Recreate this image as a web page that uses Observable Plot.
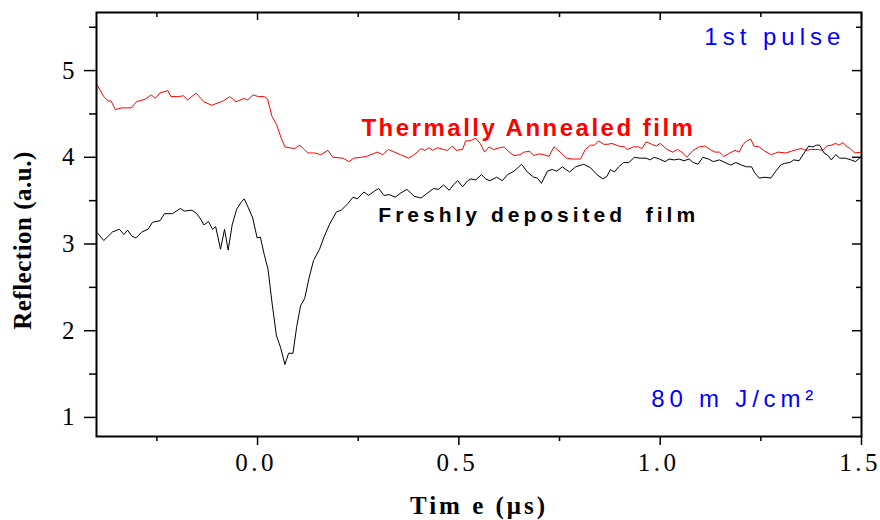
<!DOCTYPE html>
<html><head><meta charset="utf-8">
<script src="https://cdn.jsdelivr.net/npm/d3@7"></script>
<script src="https://cdn.jsdelivr.net/npm/@observablehq/plot@0.6"></script>
<style>body{margin:0;background:#fff}</style>
</head><body><div id="chart"></div>
<script>
// Thermally annealed film (red)
const annealedTime = [-0.398,-0.382,-0.371,-0.364,-0.353,-0.337,-0.314,-0.301,-0.279,-0.264,
-0.254,-0.243,-0.223,-0.215,-0.196,-0.184,-0.174,-0.153,-0.133,-0.114,
-0.085,-0.069,-0.054,-0.033,-0.025,-0.011,0.002,0.017,0.025,0.036,
0.047,0.058,0.068,0.080,0.092,0.105,0.116,0.125,0.142,0.157,
0.175,0.187,0.212,0.227,0.239,0.257,0.270,0.282,0.297,0.311,
0.325,0.340,0.355,0.375,0.389,0.406,0.416,0.426,0.435,0.447,
0.462,0.472,0.484,0.493,0.509,0.517,0.528,0.542,0.553,0.564,
0.575,0.586,0.602,0.612,0.625,0.637,0.652,0.662,0.676,0.686,
0.699,0.711,0.724,0.736,0.752,0.767,0.781,0.802,0.814,0.827,
0.837,0.847,0.860,0.870,0.880,0.897,0.911,0.918,0.934,0.946,
0.955,0.965,0.979,0.990,1.000,1.017,1.031,1.043,1.054,1.066,
1.082,1.097,1.111,1.124,1.136,1.147,1.158,1.173,1.186,1.196,
1.206,1.216,1.225,1.233,1.246,1.260,1.276,1.293,1.312,1.326,
1.340,1.351,1.363,1.375,1.392,1.403,1.414,1.425,1.436,1.444,
1.454,1.462,1.472,1.483,1.500];
const annealedReflection = [4.83,4.70,4.65,4.65,4.55,4.57,4.57,4.64,4.67,4.72,
4.68,4.74,4.77,4.70,4.70,4.71,4.66,4.74,4.64,4.60,
4.65,4.70,4.64,4.68,4.66,4.72,4.70,4.70,4.67,4.47,
4.38,4.23,4.12,4.11,4.10,4.14,4.09,4.05,4.05,4.03,
4.08,4.00,3.99,3.95,3.99,4.00,4.01,4.03,4.06,4.03,
4.09,4.06,4.03,3.99,4.03,4.10,4.08,4.11,4.08,4.11,
4.09,4.08,4.13,4.08,4.09,4.19,4.19,4.22,4.16,4.06,
4.12,4.09,4.11,4.12,4.06,4.02,4.03,4.06,4.07,4.02,
4.04,4.03,4.01,4.12,4.06,3.99,3.98,3.98,4.09,4.14,
4.14,4.19,4.15,4.15,4.16,4.13,4.12,4.09,4.12,4.12,
4.10,4.18,4.15,4.13,4.16,4.09,4.06,4.09,4.06,4.00,
4.08,4.12,4.13,4.09,4.06,4.06,4.01,4.05,4.08,4.06,
4.15,4.19,4.21,4.13,4.12,4.07,4.03,4.06,4.05,4.07,
4.09,4.10,4.08,4.09,4.09,4.08,4.13,4.14,4.16,4.14,
4.17,4.13,4.10,4.05,4.06];

// Freshly deposited film (black)
const freshTime = [-0.398,-0.382,-0.360,-0.343,-0.332,-0.323,-0.312,-0.302,-0.287,-0.272,
-0.261,-0.242,-0.231,-0.211,-0.192,-0.181,-0.163,-0.151,-0.143,-0.133,
-0.122,-0.112,-0.104,-0.092,-0.082,-0.073,-0.063,-0.052,-0.041,-0.033,
-0.023,-0.012,-0.001,0.007,0.017,0.026,0.036,0.047,0.057,0.068,
0.077,0.088,0.097,0.107,0.117,0.128,0.139,0.154,0.165,0.179,
0.196,0.208,0.225,0.237,0.248,0.264,0.276,0.290,0.301,0.314,
0.327,0.342,0.356,0.371,0.389,0.406,0.423,0.437,0.449,0.462,
0.476,0.488,0.497,0.509,0.522,0.530,0.542,0.556,0.567,0.577,
0.594,0.608,0.621,0.637,0.656,0.670,0.686,0.695,0.705,0.720,
0.732,0.743,0.757,0.775,0.790,0.810,0.827,0.843,0.858,0.868,
0.876,0.886,0.897,0.909,0.922,0.936,0.950,0.965,0.975,0.985,
0.998,1.012,1.022,1.035,1.047,1.059,1.072,1.082,1.094,1.106,
1.120,1.132,1.147,1.161,1.175,1.188,1.202,1.215,1.227,1.235,
1.246,1.260,1.275,1.287,1.299,1.309,1.322,1.332,1.345,1.356,
1.369,1.379,1.388,1.396,1.407,1.417,1.425,1.436,1.446,1.460,
1.474,1.485,1.500];
const freshReflection = [3.13,3.04,3.14,3.17,3.11,3.16,3.09,3.07,3.14,3.17,
3.25,3.27,3.35,3.35,3.41,3.38,3.39,3.35,3.30,3.22,
3.26,3.17,3.20,2.94,3.17,2.93,3.22,3.40,3.48,3.52,
3.42,3.30,3.07,3.08,2.87,2.71,2.32,1.94,1.81,1.61,
1.74,1.74,2.04,2.29,2.37,2.61,2.81,2.94,3.08,3.23,
3.37,3.39,3.47,3.54,3.52,3.60,3.56,3.61,3.64,3.56,
3.57,3.54,3.59,3.63,3.55,3.53,3.59,3.64,3.63,3.68,
3.62,3.69,3.73,3.66,3.73,3.75,3.74,3.80,3.75,3.73,
3.77,3.73,3.80,3.84,3.92,3.83,3.77,3.76,3.70,3.84,
3.86,3.84,3.89,3.83,3.89,3.92,3.88,3.80,3.75,3.78,
3.86,3.83,3.89,3.94,3.94,4.00,3.99,3.99,3.97,4.00,
3.98,3.95,3.98,3.97,3.98,3.96,3.98,3.94,3.92,4.00,
3.98,3.95,3.97,3.94,3.91,3.94,3.91,3.89,3.89,3.82,
3.76,3.77,3.76,3.84,3.91,3.93,3.94,3.97,3.96,4.04,
4.13,4.12,4.14,4.14,4.05,4.02,3.97,4.03,3.99,3.99,
3.97,3.95,4.01];

const xMajorTicks = [0, 0.5, 1.0, 1.5];
const xMinorTicks = [-0.25, 0.25, 0.75, 1.25];
const yMajorTicks = [1, 2, 3, 4, 5];
const yMinorTicks = [1.5, 2.5, 3.5, 4.5, 5.5];
const annealedLabel = ["Thermally Annealed film"];
const freshLabel = ["Freshly deposited  film"];
const pulseLabel = ["1st pulse"];
const fluenceLabel = ["80 m J/cm\u00B2"];
const xTitle = ["Tim e (\u03BCs)"];
const yTitle = ["Reflection (a.u.)"];

const annealed = annealedTime.map((t, i) => ({t, v: annealedReflection[i]}));
const fresh = freshTime.map((t, i) => ({t, v: freshReflection[i]}));

const serif = "Liberation Serif, Times New Roman, serif";
const sans = "Liberation Sans, Arial, sans-serif";

const svg = Plot.plot({
  width: 880, height: 520,
  marginLeft: 96, marginRight: 19, marginTop: 12, marginBottom: 84,
  x: {domain: [-0.4, 1.5]},
  y: {domain: [0.78, 5.67]},
  style: {background: "#fff", color: "#000", fontFamily: serif},
  marks: [
    Plot.line(annealed, {x: "t", y: "v", stroke: "#ff0000", strokeWidth: 1}),
    Plot.line(fresh, {x: "t", y: "v", stroke: "#000", strokeWidth: 1}),
    Plot.axisY(yMajorTicks, {anchor: "left", tickSize: 12, tickPadding: 10, tickFormat: d => String(d), fontSize: 25, fontFamily: serif, label: null, strokeWidth: 1.5}),
    Plot.axisY(yMinorTicks, {anchor: "left", tickSize: 7, fill: "none", label: null, strokeWidth: 1.5}),
    Plot.axisY(yMajorTicks, {anchor: "right", tickSize: 10, dx: -10, fill: "none", label: null, strokeWidth: 1.5}),
    Plot.axisY(yMinorTicks, {anchor: "right", tickSize: 6, dx: -6, fill: "none", label: null, strokeWidth: 1.5}),
    Plot.axisX(xMajorTicks, {anchor: "bottom", tickSize: 9, tickPadding: 8, tickFormat: d3.format(".1f"), fontSize: 25, fontFamily: serif, label: null, strokeWidth: 1.5}),
    Plot.axisX(xMinorTicks, {anchor: "bottom", tickSize: 5, fill: "none", label: null, strokeWidth: 1.5}),
    Plot.axisX(xMajorTicks, {anchor: "top", tickSize: 7, dy: 7, fill: "none", label: null, strokeWidth: 1.5}),
    Plot.axisX(xMinorTicks, {anchor: "top", tickSize: 4, dy: 4, fill: "none", label: null, strokeWidth: 1.5}),
    Plot.frame({strokeWidth: 2}),
    Plot.text(annealedLabel, {x: 0.258, y: 4.25, text: d => d, textAnchor: "start", lineAnchor: "bottom", fill: "#ff0000", fontFamily: sans, fontWeight: "bold", fontSize: 24}),
    Plot.text(freshLabel, {x: 0.3, y: 3.25, text: d => d, textAnchor: "start", lineAnchor: "bottom", fill: "#000", fontFamily: sans, fontWeight: "bold", fontSize: 21}),
    Plot.text(pulseLabel, {x: 1.46, y: 5.29, text: d => d, textAnchor: "end", lineAnchor: "bottom", fill: "#0000ff", fontFamily: sans, fontSize: 24}),
    Plot.text(fluenceLabel, {x: 0.978, y: 1.118, text: d => d, textAnchor: "start", lineAnchor: "bottom", fill: "#0000ff", fontFamily: sans, fontSize: 24}),
    Plot.text(yTitle, {frameAnchor: "left", textAnchor: "middle", lineAnchor: "middle", rotate: -90, dx: -73.5, dy: 16, text: d => d, fontFamily: serif, fontWeight: "bold", fontSize: 25, fill: "#000"}),
    Plot.text(xTitle, {frameAnchor: "bottom", textAnchor: "middle", dy: 77, lineAnchor: "bottom", text: d => d, fontFamily: serif, fontWeight: "bold", fontSize: 25, fill: "#000"})
  ]
});

const spacing = {
  "Thermally Annealed film": "2.5px",
  "Freshly deposited  film": "4px",
  "1st pulse": "5px",
  "80 m J/cm\u00B2": "4.8px",
  "Tim e (\u03BCs)": "3px",
  "Reflection (a.u.)": "0.5px"
};
const xTickText = new Set(xMajorTicks.map(d3.format(".1f")));
d3.select(svg).selectAll("text").each(function() {
  const s = spacing[this.textContent];
  if (s) { this.style.letterSpacing = s; }
  if (xTickText.has(this.textContent)) {
    this.style.letterSpacing = "3.5px";
    this.setAttribute("dx", "-1.5");
  }
  this.style.whiteSpace = "pre";
});
document.getElementById("chart").appendChild(svg);
</script>
</body></html>
